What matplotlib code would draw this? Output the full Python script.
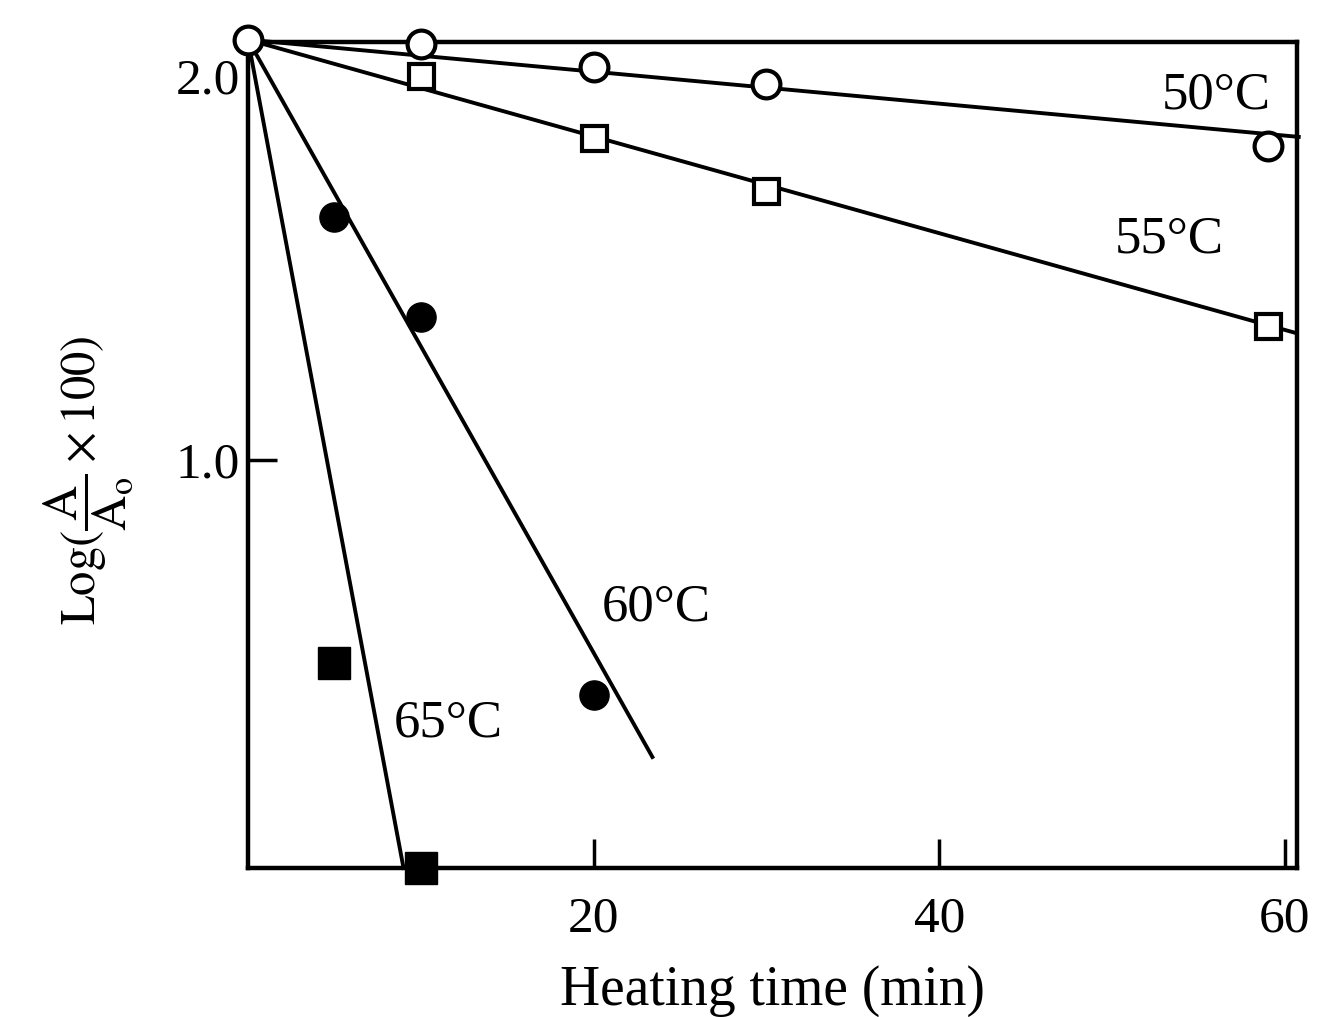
import matplotlib
matplotlib.use("Agg")
import matplotlib.pyplot as plt

plt.rcParams['font.family'] = ['Liberation Serif', 'DejaVu Serif']
plt.rcParams['mathtext.fontset'] = 'stix'

# measured points (min, log(A/A0 x 100))
t50 = [0, 10, 20, 30, 59]
y50 = [2.094, 2.083, 2.023, 1.979, 1.818]
t55 = [10, 20, 30, 59]
y55 = [2.00, 1.839, 1.700, 1.349]
t60 = [5, 10, 20]
y60 = [1.633, 1.372, 0.388]
t65 = [5, 10]
y65 = [0.471, -0.062]

# fitted lines (start, end)
fit50_t = [0, 60.8]
fit50_y = [2.094, 1.841]
fit55_t = [0, 60.6]
fit55_y = [2.094, 1.331]
fit60_t = [0, 23.4]
fit60_y = [2.094, 0.227]
fit65_t = [0, 9.0]
fit65_y = [2.094, -0.062]

labels = ['50°C', '55°C', '60°C', '65°C']
label_pos = [(56.0, 1.95), (53.3, 1.575), (23.6, 0.615), (11.6, 0.315)]

fig = plt.figure(figsize=(13.24, 10.17), dpi=100)
ax = fig.add_axes([0.1873, 0.1465, 0.7923, 0.8122])

lw = 2.8
ax.plot(fit50_t, fit50_y, color='black', lw=lw, clip_on=False)
ax.plot(fit55_t, fit55_y, color='black', lw=lw, clip_on=False)
ax.plot(fit60_t, fit60_y, color='black', lw=lw, clip_on=False)
ax.plot(fit65_t, fit65_y, color='black', lw=lw, clip_on=False)

ax.plot(t55, y55, 's', ms=18, mfc='white', mec='black', mew=3, clip_on=False, zorder=3)
ax.plot(t50, y50, 'o', ms=20, mfc='white', mec='black', mew=3, clip_on=False, zorder=4)
ax.plot(t60, y60, 'o', ms=21, mfc='black', mec='black', clip_on=False, zorder=3)
ax.plot(t65, y65, 's', ms=23, mfc='black', mec='black', clip_on=False, zorder=3)

for txt, (x, y) in zip(labels, label_pos):
    ax.text(x, y, txt, fontsize=38, ha='center', va='center')

ax.set_xlim(0, 60.7)
ax.set_ylim(-0.062, 2.088)
ax.set_xticks([20, 40, 60])
ax.set_yticks([1.0, 2.0])
ax.set_yticklabels(['1.0', '2.0'])
ax.tick_params(direction='in', length=21, width=2.5, labelsize=37, pad=6)
ax.tick_params(axis='x', pad=20)
ax.yaxis.get_major_ticks()[1].tick1line.set_visible(False)
for s in ax.spines.values():
    s.set_linewidth(3.2)

ax.set_xlabel('Heating time (min)', fontsize=40, labelpad=16)
ax.set_ylabel(r'$\mathrm{Log}(\dfrac{\mathrm{A}}{\mathrm{A_o}}\times 100)$', fontsize=35)
ax.yaxis.set_label_coords(-0.108, 0.47)

fig.savefig('out.png', dpi=100, facecolor='white')
